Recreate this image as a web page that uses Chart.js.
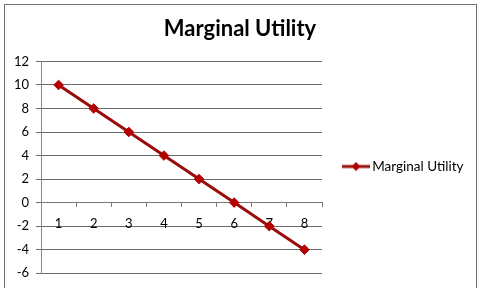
<!DOCTYPE html>
<html>
<head>
<meta charset="utf-8">
<script src="https://cdn.jsdelivr.net/npm/chart.js@4/dist/chart.umd.min.js"></script>
<style>
html,body{margin:0;padding:0;background:#fff;}
#wrap{width:480px;height:288px;position:relative;}
</style>
</head>
<body>
<div id="wrap"><canvas id="c" width="480" height="288"></canvas></div>
<script>
const categories = ['1','2','3','4','5','6','7','8'];
const marginalUtility = [10, 8, 6, 4, 2, 0, -2, -4];
const seriesName = 'Marginal Utility';
const chartTitle = 'Marginal Utility';
const yMin = -6, yMax = 12, yStep = 2;

const LINE = '#9a0c0c';
const MARK = '#b30000';

// legend marker: line with a diamond
const mk = document.createElement('canvas');
mk.width = 28; mk.height = 10;
(function(){
  const g = mk.getContext('2d');
  g.strokeStyle = LINE; g.lineWidth = 3;
  g.beginPath(); g.moveTo(0,5); g.lineTo(28,5); g.stroke();
  g.fillStyle = MARK;
  g.beginPath(); g.moveTo(14,0.5); g.lineTo(18.5,5); g.lineTo(14,9.5); g.lineTo(9.5,5); g.closePath(); g.fill();
})();

const borderPlugin = {
  id: 'frame',
  afterDraw(chart){
    const ctx = chart.ctx;
    ctx.save();
    ctx.strokeStyle = '#6f6f6f';
    ctx.lineWidth = 1;
    ctx.strokeRect(4.5, 4.5, 472, 300);
    ctx.restore();
  }
};

new Chart(document.getElementById('c'), {
  type: 'line',
  data: {
    labels: categories,
    datasets: [{
      label: seriesName,
      data: marginalUtility,
      borderColor: LINE,
      backgroundColor: MARK,
      borderWidth: 3,
      pointStyle: 'rectRot',
      pointRadius: 4.8,
      pointBackgroundColor: MARK,
      pointBorderColor: MARK,
      pointBorderWidth: 1,
      tension: 0
    }]
  },
  options: {
    responsive: false,
    animation: false,
    layout: { padding: { left: 8, right: 8, top: 16, bottom: 7 } },
    plugins: {
      title: {
        display: true, text: chartTitle, color: '#000',
        font: { family: 'Lato', size: 22, weight: 'bold' },
        padding: { top: 0, bottom: 19 }
      },
      legend: {
        position: 'right',
        maxWidth: 150,
        title: { display: true, text: '', color: '#000', font: { size: 10 }, padding: { top: 12, bottom: 12 } },
        labels: {
          usePointStyle: true,
          pointStyleWidth: 19,
          color: '#000',
          font: { family: 'Lato', size: 13.5 },
          padding: 24.5,
          generateLabels(chart){
            return [{ text: seriesName, fontColor: '#000', pointStyle: mk, fillStyle: MARK, strokeStyle: LINE, lineWidth: 0, datasetIndex: 0, hidden: false }];
          }
        }
      },
      tooltip: { enabled: false }
    },
    scales: {
      x: {
        type: 'category',
        position: { y: 0 },
        offset: true,
        grid: { display: true, drawOnChartArea: false, drawTicks: true, tickLength: 4, color: '#777', offset: true },
        border: { display: true, color: '#777', width: 1 },
        ticks: { color: '#000', font: { family: 'Lato', size: 13 }, padding: 9, maxRotation: 0 }
      },
      y: {
        min: yMin, max: yMax,
        grid: { color: '#6a6a6a', tickLength: 5, lineWidth: 1 },
        border: { display: true, color: '#8a8a8a' },
        ticks: { stepSize: yStep, color: '#000', font: { family: 'Lato', size: 13 }, padding: 7 },
        afterFit(scale){ scale.width = 33; }
      }
    }
  },
  plugins: [borderPlugin]
});
</script>
</body>
</html>
